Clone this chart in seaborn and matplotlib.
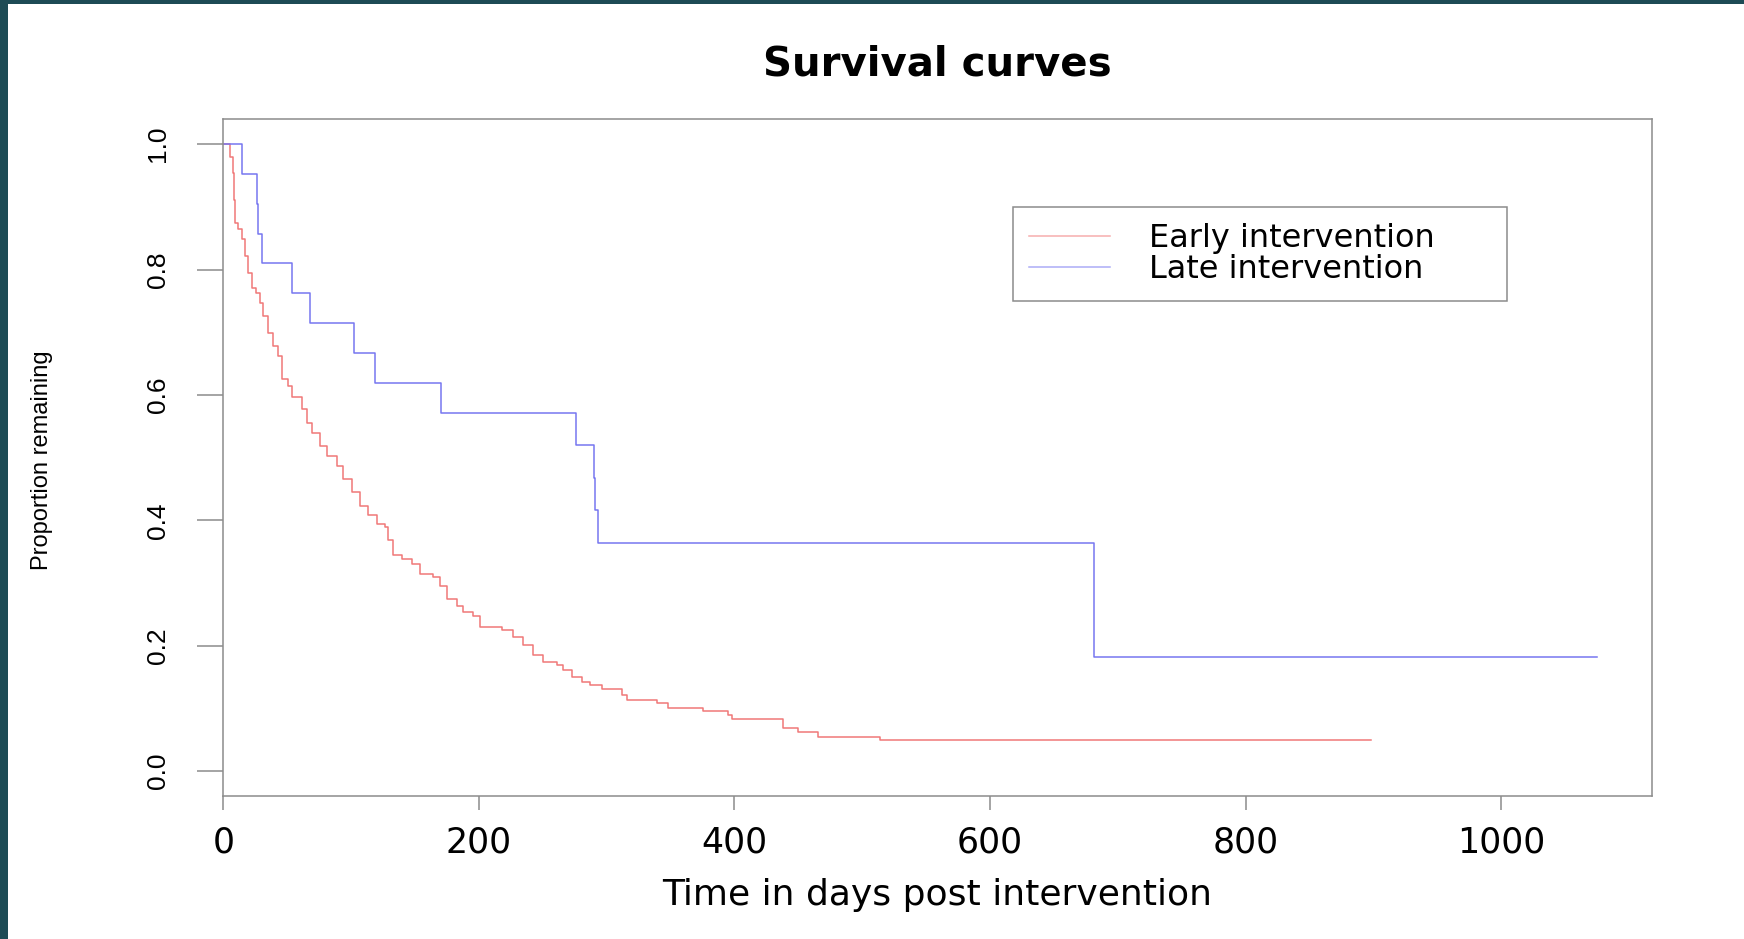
import pandas as pd
import matplotlib.pyplot as plt
import seaborn as sns
from matplotlib.patches import Rectangle

# Ранняя интервенция: время (дни) и доля оставшихся после каждого шага
early_time = [0, 5.2, 7.3, 8.4, 9.4, 11.7, 14.4, 17, 19.6, 22.2, 25.6, 28.7, 31.3,
              35.2, 39.1, 43, 45.7, 50.9, 53.5, 61.3, 65.3, 69.2, 75.7, 80.9, 88.7,
              93.9, 100.5, 107, 113.5, 120, 126.5, 129.1, 132.5, 139.6, 147.4, 153.9,
              164.3, 169.6, 174.8, 182.6, 187.8, 195.6, 200.9, 217.8, 226.9, 234.7,
              242.6, 250.4, 260.9, 266, 272.6, 280.4, 286.9, 296.1, 311.7, 315.6,
              339.1, 348.2, 375.6, 395.2, 397.8, 438.2, 449.9, 465.6, 513.8, 898]
early_surv = [1.0, 0.98, 0.954, 0.911, 0.874, 0.864, 0.848, 0.821, 0.795, 0.771,
              0.763, 0.747, 0.726, 0.699, 0.678, 0.662, 0.625, 0.614, 0.596, 0.577,
              0.556, 0.540, 0.519, 0.503, 0.487, 0.466, 0.445, 0.423, 0.409, 0.394,
              0.389, 0.368, 0.345, 0.339, 0.331, 0.315, 0.309, 0.296, 0.275, 0.264,
              0.254, 0.248, 0.230, 0.2245, 0.214, 0.2006, 0.1847, 0.1742, 0.1688,
              0.1609, 0.1504, 0.1424, 0.137, 0.1317, 0.121, 0.113, 0.108, 0.1015,
              0.0962, 0.0893, 0.0829, 0.0697, 0.0628, 0.0549, 0.0495, 0.0495]

# Поздняя интервенция
late_time = [0, 15, 26, 27.5, 30, 54, 68, 102, 119, 170, 276, 290, 291, 293, 681, 1075]
late_surv = [1.0, 0.952, 0.905, 0.857, 0.810, 0.762, 0.714, 0.667, 0.619, 0.571,
             0.520, 0.468, 0.416, 0.364, 0.182, 0.182]

labels = ['Early intervention', 'Late intervention']
x_ticks = [0, 200, 400, 600, 800, 1000]
y_ticks = [0.0, 0.2, 0.4, 0.6, 0.8, 1.0]

df = pd.concat([
    pd.DataFrame({'time': early_time, 'surv': early_surv, 'group': labels[0]}),
    pd.DataFrame({'time': late_time, 'surv': late_surv, 'group': labels[1]}),
], ignore_index=True)

W, H = 1744, 939
fig = plt.figure(figsize=(W / 100, H / 100), dpi=100)
fig.patch.set_facecolor('#1d4b55')
# белая подложка, тёмная рамка остаётся слева и сверху
fig.add_artist(Rectangle((8 / W, 0), 1, 935 / H, transform=fig.transFigure,
                         facecolor='white', edgecolor='none', zorder=0))

ax = fig.add_axes([223.3 / W, 1 - 796.3 / H, 1428.4 / W, 677.3 / H])
ax.set_facecolor('white')

sns.lineplot(data=df, x='time', y='surv', hue='group', ax=ax,
             palette={labels[0]: '#f07878', labels[1]: '#7676f0'},
             drawstyle='steps-post', estimator=None, sort=False, linewidth=1.1)

ax.set_xlim(0, 1117.7)
ax.set_ylim(-0.04, 1.04)
ax.set_xticks(x_ticks)
ax.set_xticklabels([str(v) for v in x_ticks], family='DejaVu Sans', fontsize=25)
ax.set_yticks(y_ticks)
ax.set_yticklabels([f'{v:.1f}' for v in y_ticks], family='Liberation Sans',
                   fontsize=19, rotation=90, va='center')

for s in ax.spines.values():
    s.set_color('#8c8c8c')
    s.set_linewidth(1.1)
ax.tick_params(axis='x', length=10, width=1.1, color='#8c8c8c', pad=11)
ax.tick_params(axis='y', length=18.7, width=1.1, color='#8c8c8c', pad=20)

ax.set_xlabel('Time in days post intervention', family='DejaVu Sans', fontsize=26)
ax.xaxis.label.set_va('center')
ax.xaxis.set_label_coords(0.5, (796.3 - 895) / 677.3)
ax.set_ylabel('Proportion remaining', family='Liberation Sans', fontsize=17)
ax.yaxis.label.set_va('center')
ax.yaxis.set_label_coords((42 - 223.3) / 1428.4, (796.3 - 460) / 677.3)

fig.text(937.5 / W, 1 - 65 / H, 'Survival curves', ha='center', va='center',
         family='DejaVu Sans', fontweight='bold', fontsize=29)

# легенда растянута по ширине рамки, как в оригинале
sns.move_legend(ax, 'upper left',
                bbox_to_anchor=((1013 - 223.3) / 1428.4, (796.3 - 207) / 677.3,
                                (1507 - 1013) / 1428.4, 0),
                mode='expand', borderaxespad=0, title=None, frameon=True,
                fancybox=False, framealpha=1, edgecolor='#8c8c8c',
                prop={'family': 'DejaVu Sans', 'size': 23},
                handlelength=2.54, handletextpad=1.22, borderpad=0.5, labelspacing=0.0)
ax.get_legend().get_frame().set_linewidth(1.1)
for line in ax.get_legend().get_lines():
    line.set_alpha(0.6)

fig.savefig('out.png', dpi=100, facecolor=fig.get_facecolor())
